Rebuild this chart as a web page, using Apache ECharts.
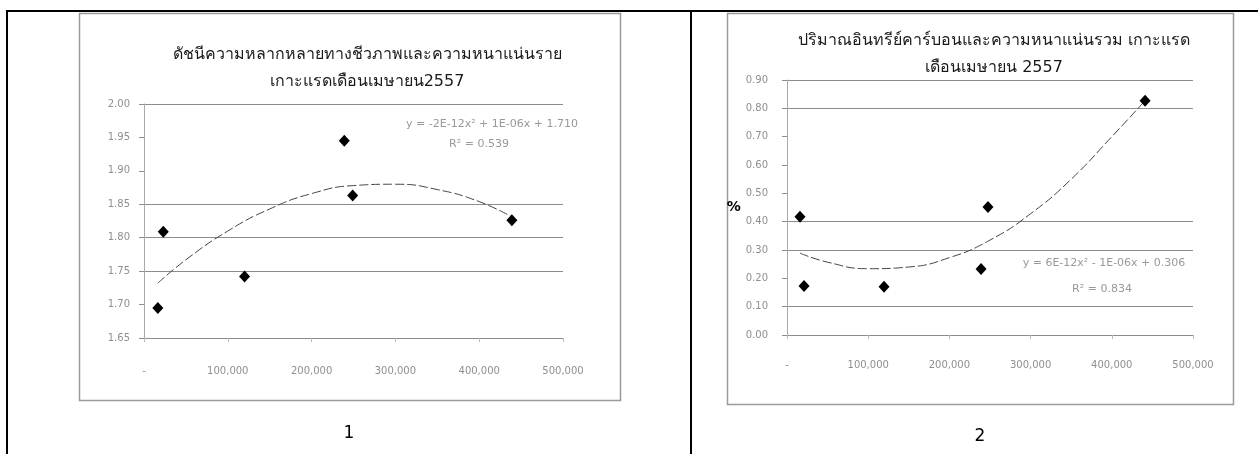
<!DOCTYPE html>
<html>
<head>
<meta charset="utf-8">
<script src="https://cdn.jsdelivr.net/npm/echarts@6/dist/echarts.min.js"></script>
<style>
html,body{margin:0;padding:0;background:#fff;}
#chart{width:1258px;height:454px;}
</style>
</head>
<body>
<div id="chart"></div>
<script>
// ---- data ----
var densityLeft = [16500, 23000, 120000, 239000, 249000, 439000];
var diversityIndex = [1.695, 1.809, 1.742, 1.945, 1.863, 1.826];

var densityRight = [16000, 21000, 119500, 239000, 247500, 441000];
var organicCarbon = [0.417, 0.173, 0.170, 0.233, 0.452, 0.827];

// trendline (polynomial, order 2)
var trendLeftX = [16500, 50000, 100000, 150000, 200000, 250000, 300000, 350000, 400000, 439000];
var trendLeftY = [1.732, 1.767, 1.810, 1.843, 1.866, 1.878, 1.880, 1.872, 1.854, 1.831];

var trendRightX = [16000, 50000, 100000, 150000, 200000, 250000, 300000, 350000, 400000, 441000];
var trendRightY = [0.289, 0.257, 0.234, 0.240, 0.273, 0.335, 0.428, 0.550, 0.700, 0.827];

var titleLeft = 'ดัชนีความหลากหลายทางชีวภาพและความหนาแน่นราย\nเกาะแรดเดือนเมษายน2557';
var titleRight = 'ปริมาณอินทรีย์คาร์บอนและความหนาแน่นรวม เกาะแรด\nเดือนเมษายน 2557';
var eqLeft = 'y = -2E-12x² + 1E-06x + 1.710';
var r2Left = 'R² = 0.539';
var eqRight = 'y = 6E-12x² - 1E-06x + 0.306';
var r2Right = 'R² = 0.834';
var panelLabels = ['1', '2'];

function pairs(xs, ys){ return xs.map(function(x,i){ return [x, ys[i]]; }); }

var G = '#8c8c8c';
var labelStyle = {color:'#8f8f8f', fontSize:10, fontFamily:'DejaVu Sans, sans-serif'};
function xAxisDef(idx, margin){
  return {
    type:'value', gridIndex:idx, min:0, max:500000, interval:100000,
    axisLine:{show:true, lineStyle:{color:G, width:1}},
    axisTick:{show:true, length:4, lineStyle:{color:'#bbb'}},
    splitLine:{show:false},
    axisLabel:Object.assign({margin:margin, formatter:function(v){ return v===0?'-':v.toLocaleString('en-US'); }}, labelStyle)
  };
}
function yAxisDef(idx, min, max, step, colors, margin){
  return {
    type:'value', gridIndex:idx, min:min, max:max, interval:step,
    axisLine:{show:true, lineStyle:{color:'#aaa', width:1}},
    axisTick:{show:true, length:5, lineStyle:{color:G}},
    splitLine:{show:true, lineStyle:{color:colors, width:1}},
    axisLabel:Object.assign({margin:margin, formatter:function(v){ return v.toFixed(2); }}, labelStyle)
  };
}

var chart = echarts.init(document.getElementById('chart'), null, {renderer:'canvas'});
var yR = yAxisDef(1, 0, 0.9, 0.1, [G,G,'transparent',G,G,'transparent','transparent','transparent',G,G], 19);
yR.name = '%';
yR.nameLocation = 'middle';
yR.nameRotate = 0;
yR.nameGap = 41;
yR.nameTextStyle = {fontSize:14, fontWeight:'bold', color:'#000', fontFamily:'DejaVu Sans, sans-serif'};

var titleFont = {fontSize:16, fontWeight:'normal', color:'#1a1a1a', lineHeight:27, fontFamily:'Tahoma, DejaVu Sans, sans-serif'};
var smallText = {fill:'#999', fontSize:11, fontFamily:'DejaVu Sans, sans-serif', align:'center', verticalAlign:'middle'};
var markerStyle = {color:'#000', opacity:1};

var option = {
  animation:false,
  backgroundColor:'#fff',
  title:[
    {text:titleLeft, left:367, top:41, textAlign:'center', padding:0, textStyle:titleFont},
    {text:titleRight, left:994, top:27, textAlign:'center', padding:0, textStyle:titleFont}
  ],
  grid:[
    {left:144, top:104, width:419, height:234},
    {left:787, top:80, width:406, height:255}
  ],
  xAxis:[ xAxisDef(0, 28), xAxisDef(1, 25) ],
  yAxis:[
    yAxisDef(0, 1.65, 2.00, 0.05, [G,'transparent',G,G,G,'transparent','transparent',G], 14),
    yR
  ],
  series:[
    {type:'line', xAxisIndex:0, yAxisIndex:0, data:pairs(trendLeftX, trendLeftY), smooth:true,
     showSymbol:false, lineStyle:{color:'#444', width:1, type:[9,3]}, z:2},
    {type:'scatter', xAxisIndex:0, yAxisIndex:0, data:pairs(densityLeft, diversityIndex),
     symbol:'diamond', symbolSize:[11,12], itemStyle:markerStyle, z:3},
    {type:'line', xAxisIndex:1, yAxisIndex:1, data:pairs(trendRightX, trendRightY), smooth:true,
     showSymbol:false, lineStyle:{color:'#444', width:1, type:[9,3]}, z:2},
    {type:'scatter', xAxisIndex:1, yAxisIndex:1, data:pairs(densityRight, organicCarbon),
     symbol:'diamond', symbolSize:[11,12], itemStyle:markerStyle, z:3}
  ],
  graphic:[
    // table borders
    {type:'line', shape:{x1:7, y1:11, x2:1258, y2:11}, style:{stroke:'#000', lineWidth:2}, silent:true},
    {type:'line', shape:{x1:7, y1:10, x2:7, y2:454}, style:{stroke:'#000', lineWidth:2}, silent:true},
    {type:'line', shape:{x1:691, y1:10, x2:691, y2:454}, style:{stroke:'#000', lineWidth:2}, silent:true},
    // chart frames
    {type:'rect', shape:{x:79.5, y:13.5, width:541, height:387}, style:{fill:'none', stroke:'#9a9a9a', lineWidth:1.5}, silent:true, z:-1},
    {type:'rect', shape:{x:727.5, y:13.5, width:506, height:391}, style:{fill:'none', stroke:'#9a9a9a', lineWidth:1.5}, silent:true, z:-1},
    // trendline equations
    {type:'text', x:492, y:124, style:Object.assign({text:eqLeft}, smallText)},
    {type:'text', x:479, y:144, style:Object.assign({text:r2Left}, smallText)},
    {type:'text', x:1104, y:263, style:Object.assign({text:eqRight}, smallText)},
    {type:'text', x:1102, y:289, style:Object.assign({text:r2Right}, smallText)},
    // panel numbers
    {type:'text', x:349, y:434, style:{text:panelLabels[0], align:'center', verticalAlign:'middle', fill:'#000', fontSize:17, fontFamily:'DejaVu Sans, sans-serif'}},
    {type:'text', x:980, y:437, style:{text:panelLabels[1], align:'center', verticalAlign:'middle', fill:'#000', fontSize:17, fontFamily:'DejaVu Sans, sans-serif'}}
  ]
};
chart.setOption(option);
</script>
</body>
</html>
